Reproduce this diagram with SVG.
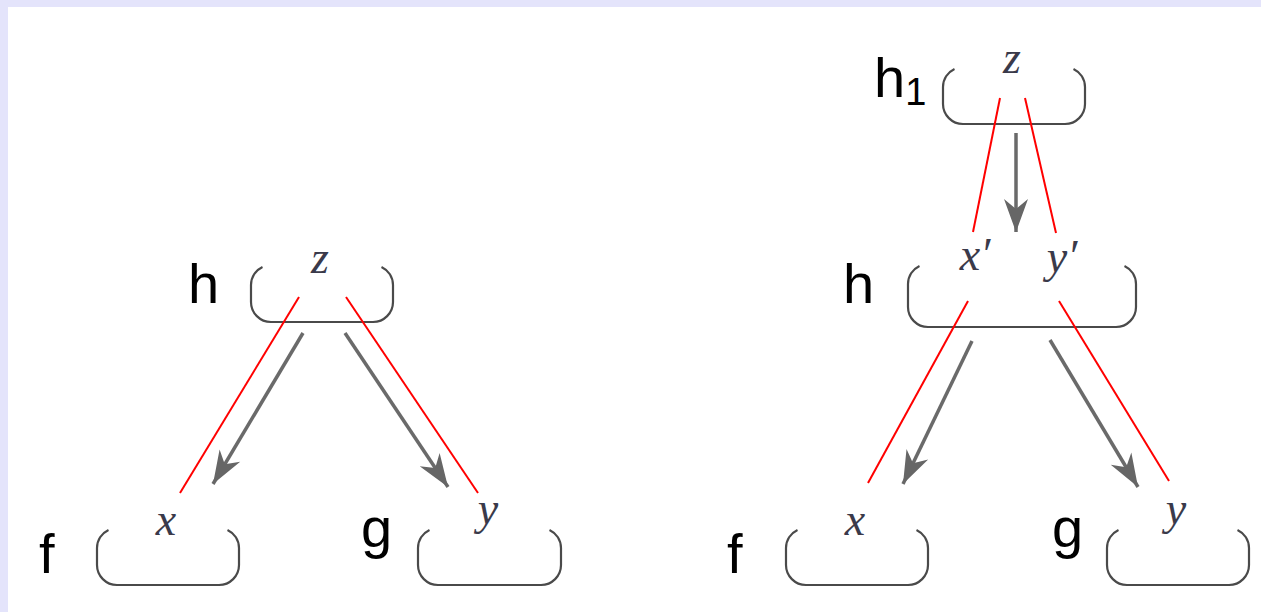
<svg xmlns="http://www.w3.org/2000/svg" width="1261" height="612" viewBox="0 0 1261 612">
  <style>
    .box { fill: none; stroke: #4a4a4a; stroke-width: 2.2; }
    .name { font-family: "Liberation Sans", Arial, sans-serif; font-size: 56px; fill: #000; }
    .sub { font-family: "Liberation Sans", Arial, sans-serif; font-size: 38px; fill: #000; }
    .var { font-family: "Liberation Serif", "Times New Roman", serif; font-style: italic; font-size: 46px; fill: #3a3a4a; text-anchor: middle; }
    .flow { stroke: #6a6a6a; stroke-width: 3.5; fill: none; marker-end: url(#head); }
    .link { stroke: #ff0000; stroke-width: 2; fill: none; }
  </style>
  <defs>
    <marker id="head" markerUnits="userSpaceOnUse" viewBox="-36 -14 38 28" refX="0" refY="0" markerWidth="38" markerHeight="28" orient="auto">
      <path d="M0,0 L-33,-12 L-23,0 L-33,12 Z" fill="#666"/>
    </marker>
  </defs>

  <!-- page frame -->
  <rect x="0" y="0" width="1261" height="612" fill="#fff"/>
  <rect x="0" y="0" width="1261" height="7" fill="#e4e4fb"/>
  <rect x="0" y="0" width="8" height="612" fill="#e4e4fb"/>

  <!-- left composition -->
  <g id="node-h">
    <path class="box" d="M262.5,266.9 A20,20 0 0 0 251,285 V302 A20,20 0 0 0 271,322 H373 A20,20 0 0 0 393,302 V285 A20,20 0 0 0 381.5,266.9"/>
    <text class="name" x="188" y="303">h</text>
    <text class="var" x="320" y="273">z</text>
  </g>
  <g id="node-f">
    <path class="box" d="M108.5,529.9 A20,20 0 0 0 97,548 V565 A20,20 0 0 0 117,585 H219 A20,20 0 0 0 239,565 V548 A20,20 0 0 0 227.5,529.9"/>
    <text class="name" x="39" y="573">f</text>
    <text class="var" x="166" y="535">x</text>
  </g>
  <g id="node-g">
    <path class="box" d="M429.5,529.9 A20,20 0 0 0 418,548 V565 A20,20 0 0 0 438,585 H541 A20,20 0 0 0 561,565 V548 A20,20 0 0 0 549.5,529.9"/>
    <text class="name" x="361" y="547">g</text>
    <text class="var" x="488" y="524">y</text>
  </g>

  <!-- right composition -->
  <g id="node-h1">
    <path class="box" d="M954.5,68.9 A20,20 0 0 0 943,87 V104 A20,20 0 0 0 963,124 H1065 A20,20 0 0 0 1085,104 V87 A20,20 0 0 0 1073.5,68.9"/>
    <text class="name" x="874" y="97">h<tspan class="sub" y="105">1</tspan></text>
    <text class="var" x="1012" y="73">z</text>
  </g>
  <g id="node-h-wide">
    <path class="box" d="M919.5,265.9 A20,20 0 0 0 908,284 V307 A20,20 0 0 0 928,327 H1116 A20,20 0 0 0 1136,307 V284 A20,20 0 0 0 1124.5,265.9"/>
    <text class="name" x="843" y="303">h</text>
    <text class="var" x="975" y="270">x′</text>
    <text class="var" x="1062" y="272">y′</text>
  </g>
  <g id="node-f2">
    <path class="box" d="M797.5,529.9 A20,20 0 0 0 786,548 V565 A20,20 0 0 0 806,585 H908 A20,20 0 0 0 928,565 V548 A20,20 0 0 0 916.5,529.9"/>
    <text class="name" x="727" y="573">f</text>
    <text class="var" x="855" y="535">x</text>
  </g>
  <g id="node-g2">
    <path class="box" d="M1118.5,529.9 A20,20 0 0 0 1107,548 V565 A20,20 0 0 0 1127,585 H1229 A20,20 0 0 0 1249,565 V548 A20,20 0 0 0 1237.5,529.9"/>
    <text class="name" x="1052" y="547">g</text>
    <text class="var" x="1176" y="524">y</text>
  </g>

  <!-- connectors -->
  <g id="connectors">
    <line class="link" x1="299" y1="297" x2="180" y2="493"/>
    <line class="link" x1="346" y1="297" x2="478" y2="493"/>
    <line class="flow" x1="303" y1="333" x2="213" y2="484"/>
    <line class="flow" x1="345" y1="333" x2="448" y2="487"/>

    <line class="link" x1="1000" y1="98" x2="973" y2="232"/>
    <line class="link" x1="1025" y1="98" x2="1056" y2="233"/>
    <line class="flow" x1="1016" y1="133" x2="1016" y2="232"/>

    <line class="link" x1="968" y1="301" x2="868" y2="483"/>
    <line class="link" x1="1059" y1="301" x2="1169" y2="481"/>
    <line class="flow" x1="972" y1="341" x2="903" y2="484"/>
    <line class="flow" x1="1050" y1="340" x2="1138" y2="487"/>
  </g>
</svg>
